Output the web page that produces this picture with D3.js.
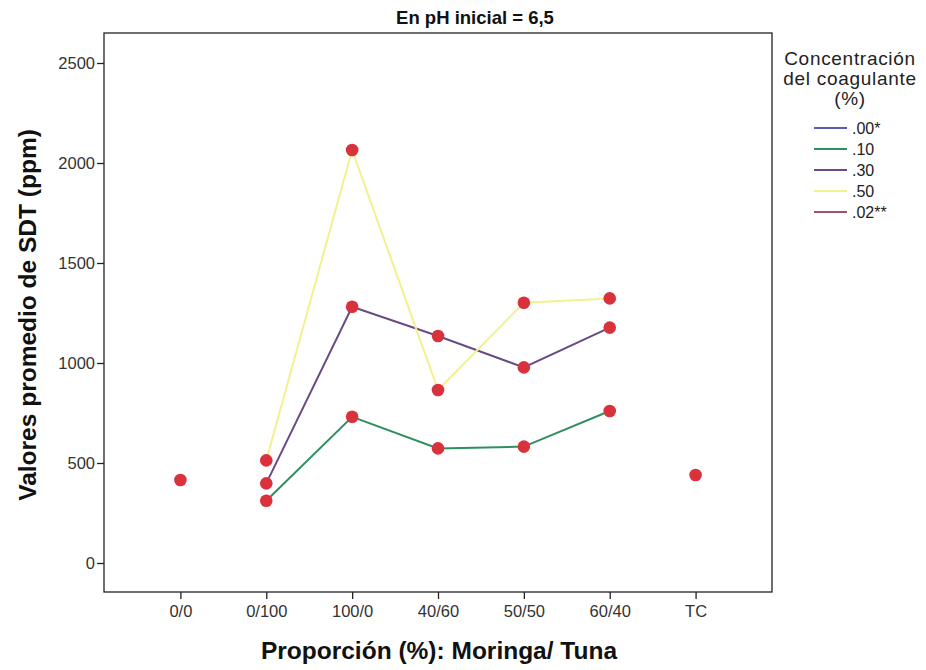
<!DOCTYPE html>
<html>
<head>
<meta charset="utf-8">
<script src="https://cdn.jsdelivr.net/npm/d3@7"></script>
<style>
  body { margin: 0; background: #fff; }
  svg { font-family: "Liberation Sans", Arial, sans-serif; }
</style>
</head>
<body>
<svg id="chart" width="926" height="670"></svg>
<script>
const categories = ["0/0", "0/100", "100/0", "40/60", "50/50", "60/40", "TC"];
const seriesNames = [".00*", ".10", ".30", ".50", ".02**"];
const seriesColors = ["#5c5fa8", "#2f8f5f", "#6a4a86", "#f3f08e", "#a5506c"];

// mean SDT (ppm) per series, null where the series has no value
const val00 = [415, null, null, null, null, null, null];
const val10 = [null, 311, 731, 573, 582, 760, null];
const val30 = [null, 398, 1281, 1135, 978, 1177, null];
const val50 = [null, 513, 2065, 865, 1301, 1323, null];
const val02 = [null, null, null, null, null, null, 440];
const yTicks = [0, 500, 1000, 1500, 2000, 2500];

const seriesValues = [val00, val10, val30, val50, val02];

const svg = d3.select("#chart"),
  plotLeft = 104,
  plotRight = 772,
  plotTop = 33,
  plotBottom = 592;

const x = d3.scalePoint().domain(categories).range([plotLeft, plotRight]).padding(0.89);
const y = d3.scaleLinear().domain([-145, 2650]).range([plotBottom, plotTop]);

// frame
svg.append("rect")
  .attr("x", plotLeft).attr("y", plotTop)
  .attr("width", plotRight - plotLeft).attr("height", plotBottom - plotTop)
  .attr("fill", "#fff").attr("stroke", "#222").attr("stroke-width", 1.3);

// axes
const yAxis = svg.append("g")
  .attr("transform", `translate(${plotLeft},0)`)
  .call(d3.axisLeft(y).tickValues(yTicks).tickFormat(d3.format("d")).tickSize(7).tickPadding(2));
const xAxis = svg.append("g")
  .attr("transform", `translate(0,${plotBottom})`)
  .call(d3.axisBottom(x).tickSize(7).tickPadding(6));

[yAxis, xAxis].forEach((g) => {
  g.select(".domain").remove();
  g.selectAll("line").attr("stroke", "#222").attr("stroke-width", 1.3);
  g.selectAll("text")
    .attr("fill", "#333")
    .style("font-size", "16.5px")
    .style("font-family", "'Liberation Sans', Arial, sans-serif");
});

// lines
const series = seriesNames.map((name, i) => ({
  name,
  color: seriesColors[i],
  points: categories
    .map((c, j) => ({ cat: c, v: seriesValues[i][j] }))
    .filter((p) => p.v != null),
}));

const line = d3.line().x((d) => x(d.cat)).y((d) => y(d.v));

svg.append("g")
  .selectAll("path")
  .data(series.filter((s) => s.points.length > 1))
  .join("path")
  .attr("d", (d) => line(d.points))
  .attr("fill", "none")
  .attr("stroke", (d) => d.color)
  .attr("stroke-width", 2);

// markers
svg.append("g")
  .selectAll("circle")
  .data(series.flatMap((s) => s.points))
  .join("circle")
  .attr("cx", (d) => x(d.cat))
  .attr("cy", (d) => y(d.v))
  .attr("r", 6.3)
  .attr("fill", "#d9323c");

// titles
svg.append("text")
  .attr("x", 475).attr("y", 24)
  .attr("text-anchor", "middle")
  .style("font-size", "18.5px").style("font-weight", "bold")
  .attr("fill", "#111")
  .text("En pH inicial = 6,5");

svg.append("text")
  .attr("x", 439).attr("y", 659)
  .attr("text-anchor", "middle")
  .style("font-size", "24.5px").style("font-weight", "bold")
  .attr("fill", "#111")
  .text("Proporción (%): Moringa/ Tuna");

svg.append("text")
  .attr("transform", "translate(36,315) rotate(-90)")
  .attr("text-anchor", "middle")
  .style("font-size", "24.5px").style("font-weight", "bold")
  .attr("fill", "#111")
  .text("Valores promedio de SDT (ppm)");

// legend
const legend = svg.append("g");
["Concentración", "del coagulante", "(%)"].forEach((t, i) => {
  legend.append("text")
    .attr("x", 850).attr("y", 65 + i * 20)
    .attr("text-anchor", "middle")
    .style("font-size", "19px")
    .style("letter-spacing", "0.7px")
    .attr("fill", "#222")
    .text(t);
});

const item = legend.selectAll("g.item")
  .data(series)
  .join("g")
  .attr("class", "item")
  .attr("transform", (d, i) => `translate(0,${128 + i * 21})`);
item.append("line")
  .attr("x1", 814).attr("x2", 847)
  .attr("stroke", (d) => d.color).attr("stroke-width", 2);
item.append("text")
  .attr("x", 852).attr("y", 6)
  .style("font-size", "16px")
  .attr("fill", "#222")
  .text((d) => d.name);
</script>
</body>
</html>
